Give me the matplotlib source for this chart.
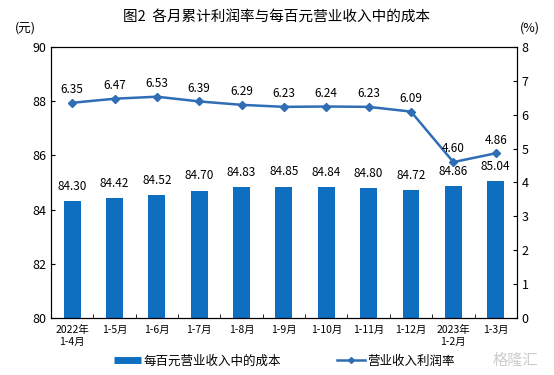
import numpy as np
import matplotlib
matplotlib.use('Agg')
import matplotlib.pyplot as plt
from matplotlib.lines import Line2D

plt.rcParams['font.family'] = ['Noto Sans CJK SC', 'DejaVu Sans']

months = ['2022年\n1-4月', '1-5月', '1-6月', '1-7月', '1-8月', '1-9月',
          '1-10月', '1-11月', '1-12月', '2023年\n1-2月', '1-3月']
cost = [84.30, 84.42, 84.52, 84.70, 84.83, 84.85, 84.84, 84.80, 84.72, 84.86, 85.04]
profit_rate = [6.35, 6.47, 6.53, 6.39, 6.29, 6.23, 6.24, 6.23, 6.09, 4.60, 4.86]

bar_color = '#0e6fc1'
line_color = '#2f6db5'

fig = plt.figure(figsize=(5.54, 3.75), dpi=100)
ax = fig.add_axes([0.092, 0.152, 0.841, 0.723])
ax2 = ax.twinx()

x = np.arange(len(months))
ax.bar(x, [c - 80 for c in cost], bottom=80, width=0.4, color=bar_color, zorder=2)
for xi, c in zip(x, cost):
    ax.text(xi, c + 0.3, f'{c:.2f}', ha='center', va='bottom', fontsize=8.5)

ax2.plot(x, profit_rate, color=line_color, marker='D', markersize=4, linewidth=1.8)
for xi, p in zip(x, profit_rate):
    ax2.text(xi, p + 0.2, f'{p:.2f}', ha='center', va='bottom', fontsize=8.5)

ax.set_xlim(-0.5, len(months) - 0.5)
ax.set_ylim(80, 90)
ax.set_yticks(range(80, 91, 2))
ax2.set_ylim(0, 8)
ax2.set_yticks(range(0, 9))

ax.set_xticks(x)
ax.set_xticklabels(months, fontsize=7.5)
ax.set_xticks(np.arange(-0.5, len(months), 1), minor=True)
ax.tick_params(axis='x', which='major', length=0, pad=5)
ax.tick_params(axis='x', which='minor', length=3, direction='in')
ax.tick_params(axis='y', direction='in', length=3, labelsize=9)
ax2.tick_params(axis='y', direction='in', length=3, labelsize=9)

fig.text(0.5, 0.955, '图2  各月累计利润率与每百元营业收入中的成本', ha='center', va='center', fontsize=10.5)
fig.text(0.045, 0.925, '(元)', ha='center', va='center', fontsize=9)
fig.text(0.957, 0.925, '(%)', ha='center', va='center', fontsize=9)

h1 = Line2D([], [], color=bar_color, linewidth=5, solid_capstyle='butt')
h2 = Line2D([], [], color=line_color, marker='D', markersize=3, linewidth=1.8)
fig.legend([h1, h2], ['每百元营业收入中的成本', '营业收入利润率'], loc='center',
           bbox_to_anchor=(0.513, 0.037), ncol=2, frameon=False, fontsize=9,
           handlelength=2.2, handletextpad=0.2, columnspacing=4.5)

fig.text(0.93, 0.04, '格隆汇', ha='center', va='center', fontsize=11, color='#cccccc')

fig.savefig('out.png', dpi=100)
